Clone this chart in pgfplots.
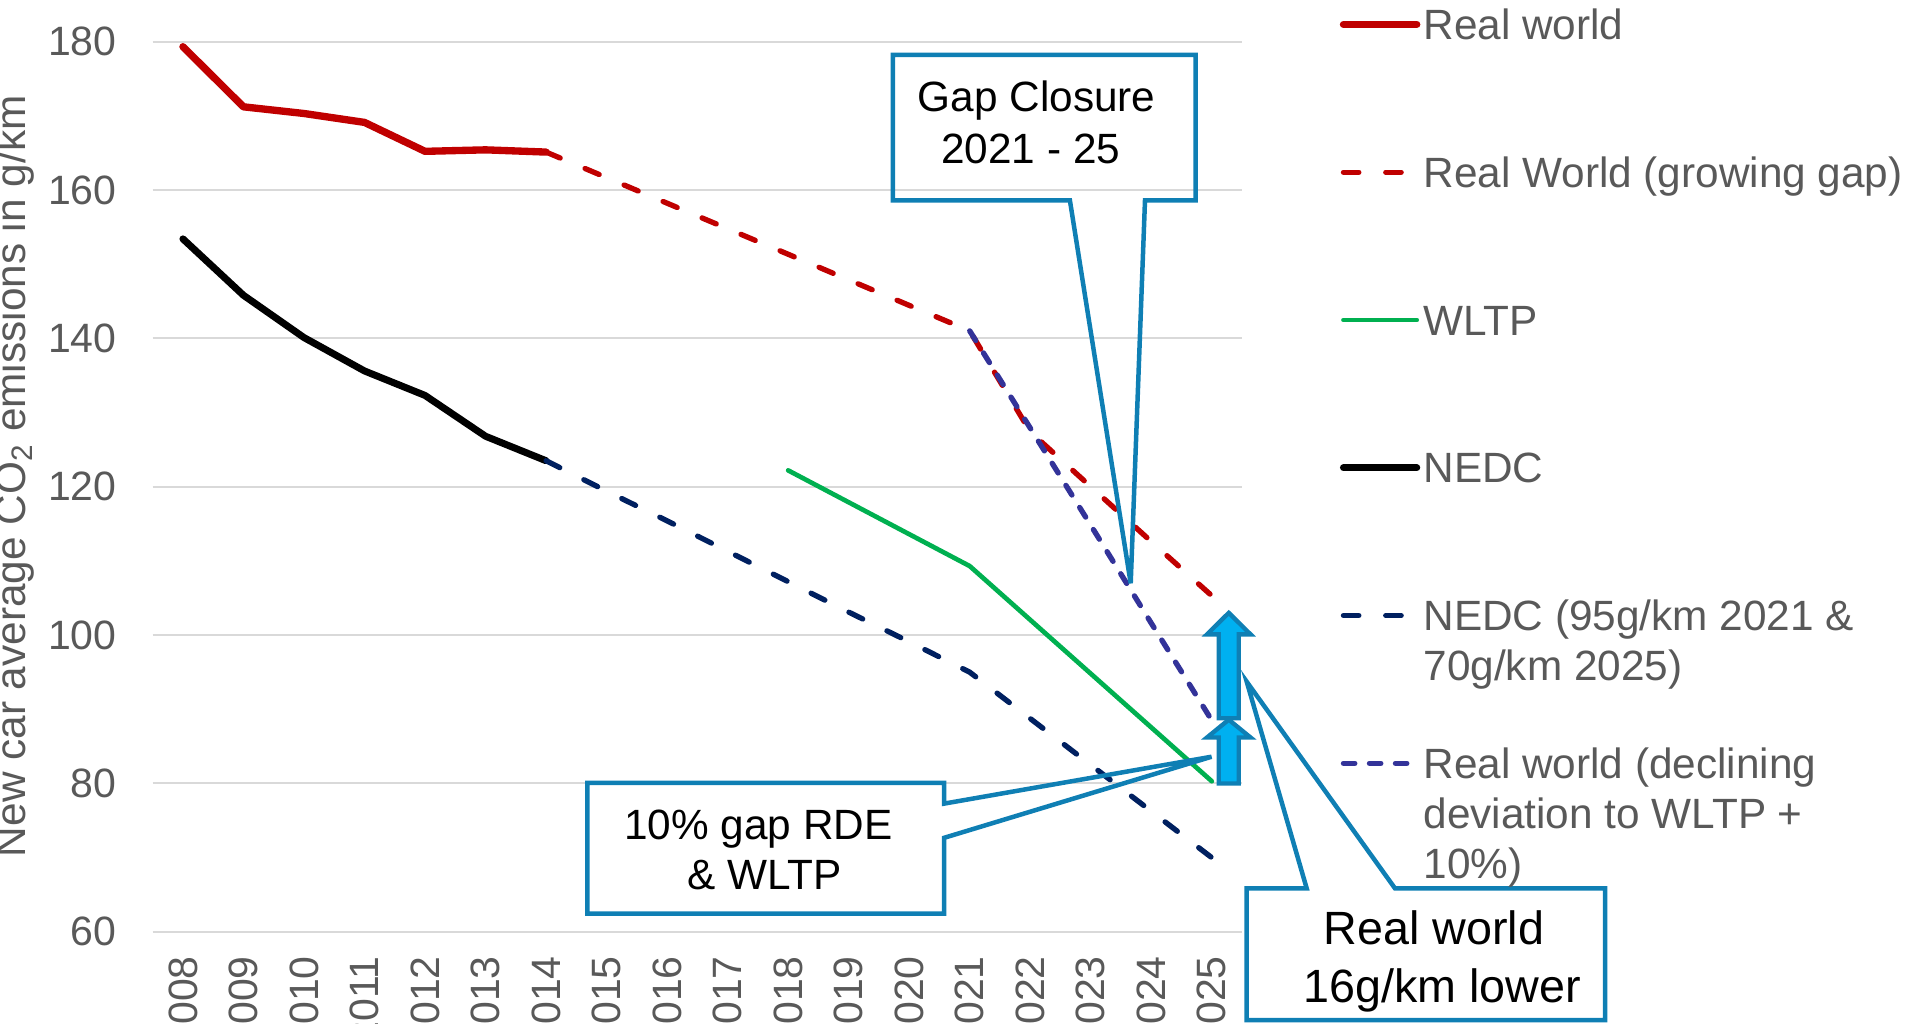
\documentclass[border=0pt]{standalone}
\usepackage{fontspec}
\setmainfont{Liberation Sans}
\usepackage{pgfplots}
\pgfplotsset{compat=1.18}
\definecolor{cred}{HTML}{C00000}
\definecolor{cgreen}{HTML}{00B050}
\definecolor{cnavy}{HTML}{002060}
\definecolor{cpurple}{HTML}{333399}
\definecolor{cgrid}{HTML}{D9D9D9}
\definecolor{ctext}{HTML}{595959}
\definecolor{cbox}{HTML}{0F7FB4}
\definecolor{carrow}{HTML}{00B0F0}
\newcommand{\tickfont}{\fontsize{12.3}{14}\selectfont}
\newcommand{\legfont}{\fontsize{12.7}{15}\selectfont}
\newcommand{\boxfont}{\fontsize{12.7}{15}\selectfont}
\newcommand{\bigboxfont}{\fontsize{14}{17}\selectfont}
\tikzset{
  redsolid/.style={cred, line width=2.2pt, line join=round, line cap=round},
  reddash/.style={cred, line width=1.6pt, dash pattern=on 4.6pt off 8.1pt, line cap=round},
  greensolid/.style={cgreen, line width=1.4pt, line join=round, line cap=round},
  blacksolid/.style={black, line width=2.1pt, line join=round, line cap=round},
  navydash/.style={cnavy, line width=1.6pt, dash pattern=on 4.6pt off 8.1pt, line cap=round},
  purpledash/.style={cpurple, line width=1.6pt, dash pattern=on 3.4pt off 4.4pt, line cap=round},
}
\begin{document}
\begin{tikzpicture}
\useasboundingbox (0,0) rectangle (574.50pt,-307.03pt);
\begin{axis}[
  at={(45.80pt,-279.56pt)}, anchor=south west,
  scale only axis, width=326.82pt, height=267.10pt,
  xmin=-0.5, xmax=17.5, ymin=60, ymax=180,
  xtick={0,...,17},
  xticklabels={2008,2009,2010,2011,2012,2013,2014,2015,2016,2017,2018,2019,2020,2021,2022,2023,2024,2025},
  ytick={60,80,...,180},
  ymajorgrids, major grid style={cgrid, line width=0.6pt},
  axis line style={draw=none}, major tick length=0pt, tick style={draw=none},
  tick label style={font=\tickfont, text=ctext},
  /pgf/number format/assume math mode=true,
  xticklabel style={rotate=90, anchor=east},
  xticklabel shift=3.8pt, yticklabel shift=7.3pt,
  ylabel={New car average CO\textsubscript{2} emissions in g/km},
  ylabel style={at={(axis description cs:-0.1271,0.5117)}, anchor=center, font=\legfont, text=ctext},
  clip=false,
]
% Real world (measured)
\addplot[redsolid] coordinates {(0,179.3)(1,171.2)(2,170.3)(3,169.1)(4,165.2)(5,165.4)(6,165.1)};
% Real World (growing gap)
\addplot[reddash] coordinates {(6,165.1)(7,161.66)(8,158.21)(9,154.77)(10,151.33)(11,147.88)(12,144.44)(13,141.0)(14,127.4)(15,120.0)(16,112.6)(17,105.3)};
% WLTP
\addplot[greensolid] coordinates {(10,122.2)(11,117.9)(12,113.6)(13,109.3)(14,102.05)(15,94.8)(16,87.55)(17,80.3)};
% NEDC
\addplot[blacksolid] coordinates {(0,153.4)(1,145.8)(2,140.1)(3,135.6)(4,132.3)(5,126.8)(6,123.5)};
% NEDC targets
\addplot[navydash] coordinates {(6,123.5)(7,119.4)(8,115.4)(9,111.3)(10,107.2)(11,103.1)(12,99.1)(13,95.0)(14,88.75)(15,82.5)(16,76.25)(17,70)};
% Real world (declining deviation)
\addplot[purpledash] coordinates {(13,141.0)(14,127.9)(15,114.8)(16,101.6)(17,88.5)};
% block arrows
\draw[fill=carrow, draw=cbox, line width=1.3pt, line join=miter]
  (axis cs:17.115,88.8) -- (axis cs:17.445,88.8) -- (axis cs:17.445,100.1) -- (axis cs:17.64,100.1)
  -- (axis cs:17.28,103.0) -- (axis cs:16.92,100.1) -- (axis cs:17.115,100.1) -- cycle;
\draw[fill=carrow, draw=cbox, line width=1.3pt, line join=miter]
  (axis cs:17.115,80) -- (axis cs:17.445,80) -- (axis cs:17.445,86.2) -- (axis cs:17.64,86.2)
  -- (axis cs:17.28,88.6) -- (axis cs:16.92,86.2) -- (axis cs:17.115,86.2) -- cycle;
\end{axis}
\begin{scope}[x=0.36639pt, y=-0.36639pt]
% callouts
\draw[cbox, line width=1.35pt, line join=miter]
  (731,45) -- (979,45) -- (979,164) -- (937.5,164) -- (925.8,477.6) -- (876,164) -- (731,164) -- cycle;
\node[anchor=base, inner sep=0pt, font=\boxfont] at (848.8,91.6) {Gap Closure};
\node[anchor=base, inner sep=0pt, font=\boxfont] at (844,133.9) {2021 - 25};
\draw[cbox, line width=1.35pt, line join=miter]
  (481,641) -- (773,641) -- (773,658) -- (992,619.6) -- (773,686) -- (773,748) -- (481,748) -- cycle;
\node[anchor=base, inner sep=0pt, font=\boxfont] at (621,687.3) {10\% gap RDE};
\node[anchor=base, inner sep=0pt, font=\boxfont] at (626,728.6) {\& WLTP};
\draw[cbox, line width=1.35pt, line join=miter]
  (1020.8,727.4) -- (1069.9,727.4) -- (1020.8,558.2) -- (1142.2,727.4) -- (1314.2,727.4) -- (1314.2,835.2) -- (1020.8,835.2) -- cycle;
\node[anchor=base, inner sep=0pt, font=\bigboxfont] at (1174,773.2) {Real world};
\node[anchor=base, inner sep=0pt, font=\bigboxfont] at (1181,820.9) {16g/km lower};
% legend
\draw[redsolid] (1100,20) -- (1160,20);
\draw[reddash] (1100,141) -- (1160,141);
\draw[greensolid] (1100,262) -- (1160,262);
\draw[blacksolid] (1100,383) -- (1160,383);
\draw[navydash] (1100,504) -- (1160,504);
\draw[purpledash] (1100,625) -- (1160,625);
\begin{scope}[every node/.style={anchor=base west, inner sep=0pt, font=\legfont, text=ctext}]
\node at (1165,32.4) {\parbox[t]{170pt}{\raggedright Real world}};
\node at (1165,153.4) {\parbox[t]{170pt}{\raggedright Real World (growing gap)}};
\node at (1165,274.4) {\parbox[t]{170pt}{\raggedright WLTP}};
\node at (1165,395.4) {\parbox[t]{170pt}{\raggedright NEDC}};
\node at (1165,516.4) {\parbox[t]{170pt}{\raggedright NEDC (95g/km 2021 \&\\70g/km 2025)}};
\node at (1165,637.4) {\parbox[t]{170pt}{\raggedright Real world (declining\\deviation to WLTP +\\10\%)}};
\end{scope}
\end{scope}
\end{tikzpicture}
\end{document}
